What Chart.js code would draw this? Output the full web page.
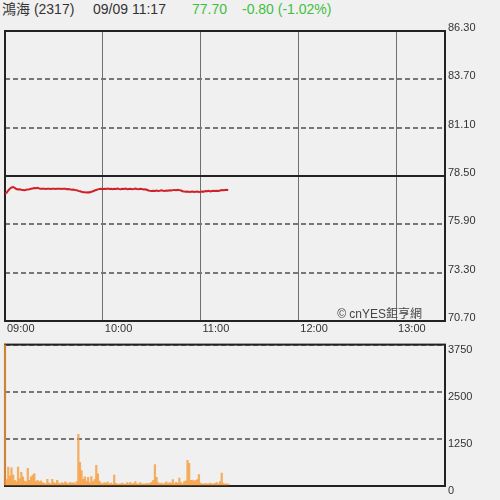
<!DOCTYPE html>
<html><head><meta charset="utf-8">
<script src="https://cdn.jsdelivr.net/npm/chart.js@4.4.0/dist/chart.umd.min.js"></script>
<style>
html,body{margin:0;padding:0;background:#f0f0f0;width:500px;height:500px;overflow:hidden;}
body{position:relative;font-family:"Liberation Sans",Arial,"Noto Sans CJK TC",sans-serif;}
.t{position:absolute;top:1px;font-size:14px;color:#333;white-space:nowrap;line-height:16px;}
.g{color:#3fbf3f;}
canvas{position:absolute;left:0;}
#wm{position:absolute;top:306px;right:78px;font-size:12px;color:#444;white-space:nowrap;line-height:16px;}
</style></head><body>
<div class="t" style="left:2px">鴻海 (2317)</div>
<div class="t" style="left:93px">09/09 11:17</div>
<div class="t g" style="left:192px">77.70</div>
<div class="t g" style="left:242px">-0.80 (-1.02%)</div>
<canvas id="c1" width="500" height="340" style="top:0"></canvas>
<canvas id="c2" width="500" height="165" style="top:335px"></canvas>
<div id="wm">© cnYES鉅亨網</div>
<script>
const timeTickMinutes = [0, 60, 120, 180, 240];
const timeTickLabels = ["09:00", "10:00", "11:00", "12:00", "13:00"];
const sessionMinutes = 270;
const prevClose = 78.50;
const priceTicks = [70.70, 73.30, 75.90, 78.50, 81.10, 83.70, 86.30];
const volumeTicks = [0, 1250, 2500, 3750];
const prices = [
77.55,77.60,77.72,77.82,77.88,77.91,77.86,77.80,77.77,77.79,
77.76,77.75,77.74,77.76,77.78,77.79,77.81,77.83,77.85,77.84,
77.86,77.83,77.82,77.81,77.82,77.80,77.81,77.82,77.80,77.81,
77.82,77.80,77.81,77.82,77.81,77.80,77.82,77.81,77.79,77.80,
77.78,77.76,77.77,77.74,77.73,77.70,77.68,77.65,77.63,77.62,
77.61,77.63,77.62,77.65,77.68,77.72,77.75,77.78,77.80,77.81,
77.79,77.81,77.80,77.82,77.80,77.81,77.79,77.81,77.80,77.82,
77.80,77.79,77.81,77.80,77.82,77.79,77.80,77.81,77.79,77.80,
77.82,77.80,77.79,77.81,77.80,77.78,77.79,77.76,77.72,77.70,
77.69,77.71,77.70,77.72,77.70,77.71,77.73,77.71,77.70,77.72,
77.71,77.73,77.72,77.74,77.75,77.74,77.76,77.74,77.72,77.68,
77.66,77.65,77.66,77.64,77.65,77.66,77.64,77.65,77.66,77.64,
77.65,77.67,77.66,77.69,77.68,77.70,77.67,77.69,77.70,77.69,
77.71,77.70,77.72,77.74,77.73,77.75,77.76,77.74];
const volumes = [
4500,180,500,260,480,290,150,120,500,200,
360,240,130,110,470,150,240,290,330,120,
150,110,140,90,70,60,180,80,60,180,
90,70,150,80,60,90,70,110,80,60,
100,70,90,60,120,1370,630,410,180,240,
130,230,90,250,120,170,550,320,130,80,
60,90,70,110,60,80,50,290,70,50,
40,60,80,50,40,90,60,100,50,70,
120,60,50,90,40,60,50,70,60,80,
100,150,570,230,90,60,80,50,70,110,
60,90,70,170,60,100,80,210,90,60,
120,140,680,600,150,160,130,150,170,300,
80,60,50,70,40,60,80,50,60,70,
90,60,120,340,70,50,60,40];

const FONT = {family: '"Liberation Sans", Arial, sans-serif', size: 11};
const frame = {
  id: 'frame',
  beforeDatasetsDraw(chart) {
    const a = chart.chartArea, c = chart.ctx;
    c.save(); c.strokeStyle = '#222'; c.lineWidth = 2;
    c.strokeRect(a.left, a.top, a.right - a.left, a.bottom - a.top);
    c.restore();
  }
};
function fixWidth(w){ return s => { s.width = w; }; }
function fixHeight(h){ return s => { s.height = h; }; }

new Chart(document.getElementById('c1'), {
  type: 'line',
  data: { datasets: [{
    data: prices.map((p, i) => ({x: i, y: p})),
    borderColor: '#cf2128', borderWidth: 2, pointRadius: 0, tension: 0
  }]},
  options: {
    responsive: false, animation: false, devicePixelRatio: 1,
    layout: {padding: {top: 31, left: 5, right: 0, bottom: 0}},
    plugins: {legend: {display: false}, tooltip: {enabled: false}},
    scales: {
      x: {
        type: 'linear', min: 0, max: sessionMinutes,
        afterBuildTicks: s => { s.ticks = timeTickMinutes.concat([sessionMinutes]).map(v => ({value: v})); },
        afterFit: fixHeight(19),
        ticks: {
          autoSkip: false, maxRotation: 0, align: 'start', padding: 1, labelOffset: 2,
          color: '#333', font: FONT,
          callback: v => { const k = timeTickMinutes.indexOf(v); return k >= 0 ? timeTickLabels[k] : ''; }
        },
        grid: {color: '#6f6f6f', lineWidth: 1, drawTicks: false},
        border: {display: false}
      },
      y: {
        position: 'right', min: priceTicks[0], max: priceTicks[priceTicks.length - 1],
        afterBuildTicks: s => { s.ticks = priceTicks.map(v => ({value: v})); },
        afterFit: fixWidth(55),
        ticks: {padding: 3, labelOffset: -3, color: '#333', font: FONT, callback: v => v.toFixed(2)},
        grid: {
          drawTicks: false,
          color: c => (c.tick && Math.abs(c.tick.value - prevClose) < 1e-6) ? '#222' : '#777',
          lineWidth: 2
        },
        border: {display: false, dash: c => (c.tick && Math.abs(c.tick.value - prevClose) > 1e-6) ? [5, 3] : []}
      }
    }
  },
  plugins: [frame]
});

new Chart(document.getElementById('c2'), {
  type: 'bar',
  data: { datasets: [{
    data: volumes.map((v, i) => ({x: i, y: v})),
    backgroundColor: 'rgba(246,158,60,0.8)', borderWidth: 0,
    barThickness: 1.6, minBarLength: 2,
    clip: {left: 2, top: 0, right: 0, bottom: 2}
  }]},
  options: {
    responsive: false, animation: false, devicePixelRatio: 1,
    layout: {padding: {top: 7, left: 5, right: 0, bottom: 14}},
    plugins: {legend: {display: false}, tooltip: {enabled: false}},
    scales: {
      x: {type: 'linear', min: 0, max: sessionMinutes, offset: false, display: false},
      y: {
        position: 'right', min: 0, max: volumeTicks[volumeTicks.length - 1],
        afterBuildTicks: s => { s.ticks = volumeTicks.map(v => ({value: v})); },
        afterFit: fixWidth(55),
        ticks: {padding: 3, labelOffset: 5, color: '#333', font: FONT, callback: v => String(v)},
        grid: {drawTicks: false, color: '#777', lineWidth: 2},
        border: {display: false, dash: [5, 3]}
      }
    }
  },
  plugins: [frame]
});
</script>
</body></html>
